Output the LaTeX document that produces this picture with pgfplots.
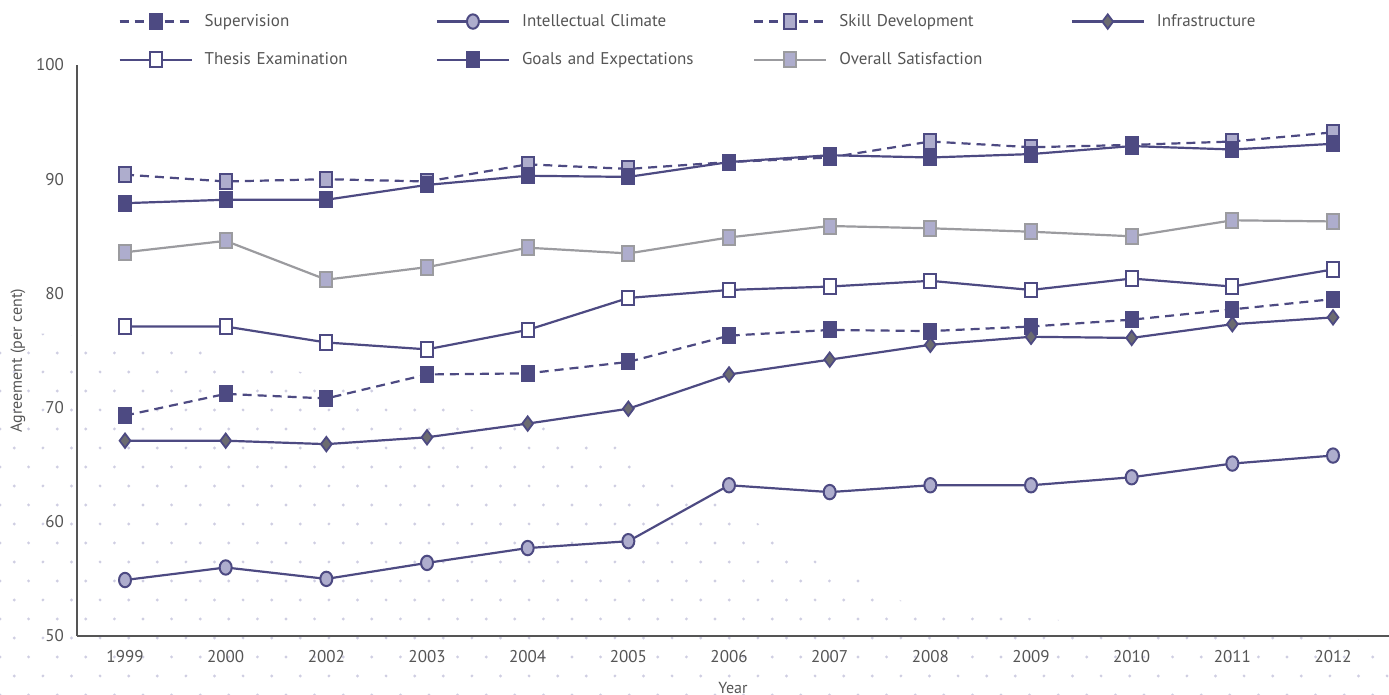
\documentclass[border=0pt]{standalone}
\usepackage{fontspec}
\setmainfont{PT Sans}
\usepackage{pgfplots}
\usepackage{pgfplotstable}
\pgfplotsset{compat=1.18}
\usetikzlibrary{patterns}

\definecolor{dp}{HTML}{4D4A82}
\definecolor{lav}{HTML}{AEADCD}
\definecolor{gl}{HTML}{9B9B9F}
\definecolor{dg}{HTML}{6B6B70}
\definecolor{txt}{HTML}{555555}
\definecolor{dotc}{HTML}{CFCEE2}

\pgfdeclarepatternformonly{bgdots}{\pgfpoint{-1pt}{-1pt}}{\pgfpoint{15pt}{20pt}}{\pgfpoint{14.3pt}{19pt}}{%
  \pgfpathcircle{\pgfpoint{0pt}{0pt}}{0.8pt}%
  \pgfpathcircle{\pgfpoint{7.15pt}{9.5pt}}{0.8pt}%
  \pgfusepath{fill}}

\pgfplotstableread{
x sup int skill infra thesis goals overall
0 69.3 54.9 90.4 67.1 77.1 87.9 83.6
1 71.2 56.0 89.8 67.1 77.1 88.2 84.6
2 70.8 55.0 90.0 66.8 75.7 88.2 81.2
3 72.9 56.4 89.8 67.4 75.1 89.5 82.3
4 73.0 57.7 91.3 68.6 76.8 90.3 84.0
5 74.0 58.3 90.9 69.9 79.6 90.2 83.5
6 76.3 63.2 91.5 72.9 80.3 91.5 84.9
7 76.8 62.6 91.9 74.2 80.6 92.1 85.9
8 76.7 63.2 93.3 75.5 81.1 91.9 85.7
9 77.1 63.2 92.8 76.2 80.3 92.2 85.4
10 77.7 63.9 93.0 76.1 81.3 92.9 85.0
11 78.6 65.1 93.3 77.3 80.6 92.6 86.4
12 79.5 65.8 94.1 77.9 82.1 93.1 86.3
}\data

\begin{document}
\begin{tikzpicture}[x=1pt,y=1pt]
\path[use as bounding box] (-38.5pt,-29.5pt) rectangle (656pt,318pt);
% decorative dotted background
\fill[pattern=bgdots, pattern color=dotc]
  (-38.5,152.5) -- (41.5,147.5) -- (261.5,99) -- (421.5,12.5) -- (656,-2.5)
  -- (656,-29.5) -- (-38.5,-29.5) -- cycle;
\begin{axis}[
  at={(0,0)}, anchor=south west,
  scale only axis, width=656pt, height=285.5pt,
  xmin=-0.477, xmax=12.556, ymin=50, ymax=100,
  axis lines=left,
  axis line style={-, draw=txt, line width=0.7pt},
  xtick={0,...,12},
  xticklabels={1999,2000,2002,2003,2004,2005,2006,2007,2008,2009,2010,2011,2012},
  ytick={50,60,...,100},
  major tick length=0pt,
  /pgf/number format/assume math mode=true,
  tick label style={font=\fontsize{8.5}{10}\selectfont, text=txt},
  yticklabel style={xshift=-3pt},
  xticklabel style={yshift=-3.5pt},
  xlabel={Year}, ylabel={Agreement (per cent)},
  label style={font=\fontsize{8}{10}\selectfont, text=txt},
  xlabel style={at={(axis description cs:0.5,-0.091)}, anchor=center},
  ylabel style={at={(axis description cs:-0.045,0.482)}, anchor=center},
  clip=false,
  legend columns=4,
  legend cell align=left,
  legend style={at={(axis description cs:0.0313,1.09)}, anchor=north west,
    draw=none, fill=none, inner sep=0pt,
    font=\fontsize{8.5}{10}\selectfont, text=txt,
    column sep=6pt, row sep=11.5pt,
    nodes={text width=109.6pt, inner sep=0pt}},
  legend image code/.code={%
    \draw[#1, mark repeat=2, mark phase=2] plot coordinates {(0pt,0pt) (18pt,0pt) (36pt,0pt)};},
  every axis plot/.append style={line width=1.1pt},
]
\addplot[dp, densely dashed, dash pattern=on 4.5pt off 3pt, mark=square*,
  mark size=3pt, mark options={solid, fill=dp, draw=dp, line width=1pt, yscale=1.25}]
  table[x=x, y=sup] {\data};
\addlegendentry{Supervision}
\addplot[dp, mark=*, mark size=3pt,
  mark options={solid, fill=lav, draw=dp, line width=1pt, yscale=1.2}]
  table[x=x, y=int] {\data};
\addlegendentry{Intellectual Climate}
\addplot[dp, dash pattern=on 4.5pt off 3pt, mark=square*, mark size=3pt,
  mark options={solid, fill=lav, draw=dp, line width=1pt, yscale=1.25}]
  table[x=x, y=skill] {\data};
\addlegendentry{Skill Development}
\addplot[dp, mark=diamond*, mark size=3.6pt,
  mark options={solid, fill=dg, draw=dp, line width=0.9pt}]
  table[x=x, y=infra] {\data};
\addlegendentry{Infrastructure}
\addplot[dp, mark=square*, mark size=3pt,
  mark options={solid, fill=white, draw=dp, line width=1pt, yscale=1.2}]
  table[x=x, y=thesis] {\data};
\addlegendentry{Thesis Examination}
\addplot[dp, mark=square*, mark size=3pt,
  mark options={solid, fill=dp, draw=dp, line width=1pt, yscale=1.25}]
  table[x=x, y=goals] {\data};
\addlegendentry{Goals and Expectations}
\addplot[gl, mark=square*, mark size=3pt,
  mark options={solid, fill=lav, draw=gl, line width=1pt, yscale=1.25}]
  table[x=x, y=overall] {\data};
\addlegendentry{Overall Satisfaction}
\end{axis}
\end{tikzpicture}
\end{document}
